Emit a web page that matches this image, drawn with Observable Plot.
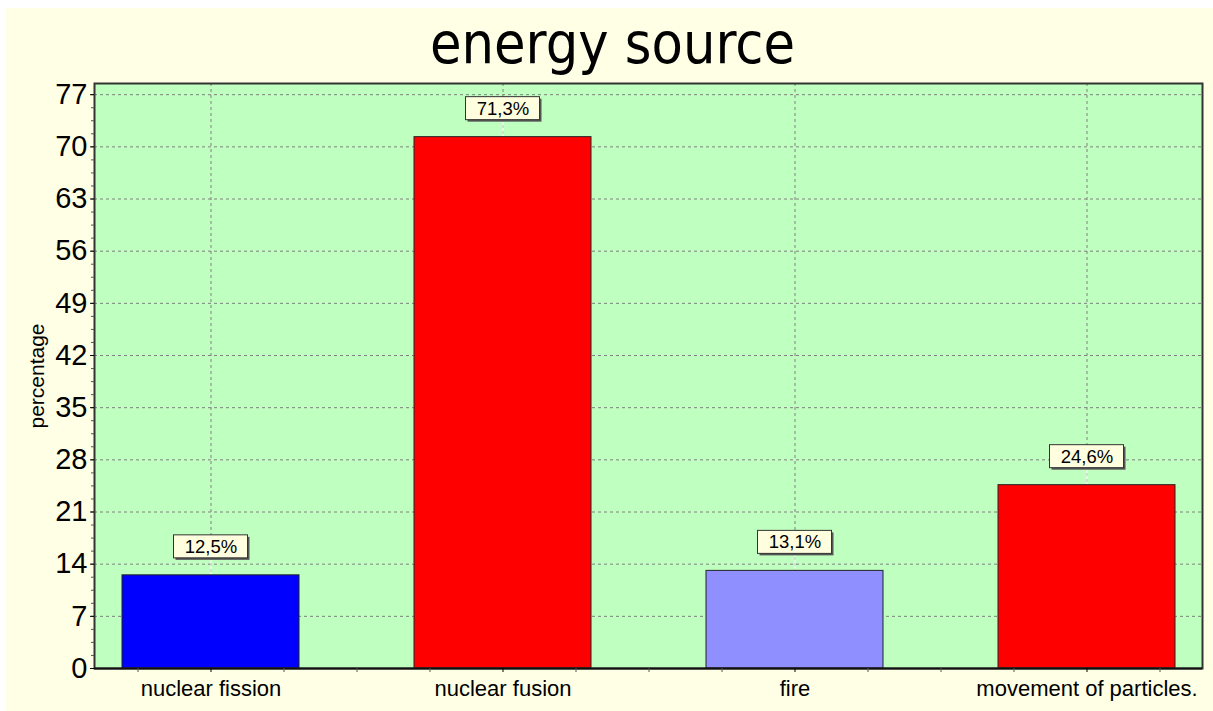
<!DOCTYPE html>
<html><head><meta charset="utf-8">
<script src="https://cdn.jsdelivr.net/npm/d3@7"></script>
<script src="https://cdn.jsdelivr.net/npm/@observablehq/plot@0.6"></script>
<style>
body{margin:0;background:#ffffff;}
#panel{position:absolute;left:6px;top:8px;width:1207px;height:703px;background:#FFFFE6;}
#title{height:70px;line-height:70px;text-align:center;padding-left:6px;font-family:"DejaVu Sans Condensed","DejaVu Sans",sans-serif;font-stretch:condensed;font-size:57px;color:#000;}
#chart svg{display:block;}
</style></head><body>
<div id="panel"><div id="title">energy source</div><div id="chart"></div></div>
<script>
const categories = ["nuclear fission", "nuclear fusion", "fire", "movement of particles."];
const values = [12.5, 71.3, 13.1, 24.6];
const valueLabels = ["12,5%", "71,3%", "13,1%", "24,6%"];
const barColors = ["#0000FF", "#FF0000", "#8F8FFF", "#FF0000"];
const yTicks = [0, 7, 14, 21, 28, 35, 42, 49, 56, 63, 70, 77];
const yMinorTicks = d3.range(0, 78, 1.75);
const yLabel = "percentage";

const data = categories.map((c, i) => ({c, v: values[i], label: valueLabels[i], color: barColors[i]}));
const minorOffsets = [-73, 73, 146];

const boxOpts = {x: "c", y1: "v", y2: "v", insetTop: -40, insetBottom: 17, insetLeft: 51.5, insetRight: 51.5};

const chart = Plot.plot({
  width: 1207, height: 632,
  marginLeft: 88, marginRight: 11, marginTop: 5, marginBottom: 42,
  style: {background: "transparent", fontFamily: "'Liberation Sans', Arial, sans-serif", color: "#000"},
  x: {domain: categories, paddingInner: 0.393, paddingOuter: 0.092, align: 0.52, label: null},
  y: {domain: [0, 78.5], label: null},
  marks: [
    Plot.frame({fill: "#BFFFBF"}),
    Plot.gridY(yTicks, {stroke: "#808080", strokeOpacity: 1, strokeDasharray: "3,3"}),
    Plot.gridX(categories, {stroke: "#808080", strokeOpacity: 1, strokeDasharray: "3,3"}),
    Plot.ruleX(data, {x: "c", y1: "v", y2: "v", insetTop: -17, stroke: "#ffffff"}),
    Plot.barY(data, {x: "c", y: "v", fill: "color", stroke: "#222", strokeWidth: 1}),
    Plot.barY(data, {...boxOpts, fill: "#555", dx: 2, dy: 2}),
    Plot.barY(data, {...boxOpts, fill: "#FFFFE0", stroke: "#333", strokeWidth: 1}),
    Plot.text(data, {x: "c", y: "v", text: "label", dy: -28.5, fontSize: 18.5, fill: "#000"}),
    Plot.frame({stroke: "#333", strokeWidth: 2}),
    Plot.ruleY([0], {stroke: "#111", strokeWidth: 2}),
    Plot.axisY(yMinorTicks, {tickSize: 3, tickFormat: () => "", label: null, stroke: "#555"}),
    Plot.axisY({ticks: yTicks, tickSize: 4, tickPadding: 3, fontSize: 29, label: null}),
    Plot.axisX({tickSize: 4, tickPadding: 8, fontSize: 22, label: null}),
    ...minorOffsets.map(off => Plot.ruleX(off > 100 ? categories.slice(0, -1) : categories,
      {x: d => d, y1: 0, y2: 0, insetBottom: -4, dx: off, stroke: "#555"})),
    Plot.text([yLabel], {frameAnchor: "left", textAnchor: "middle", rotate: -90, dx: -57, fontSize: 21, text: d => d, fill: "#000"})
  ]
});
document.getElementById("chart").appendChild(chart);
</script>
</body></html>
